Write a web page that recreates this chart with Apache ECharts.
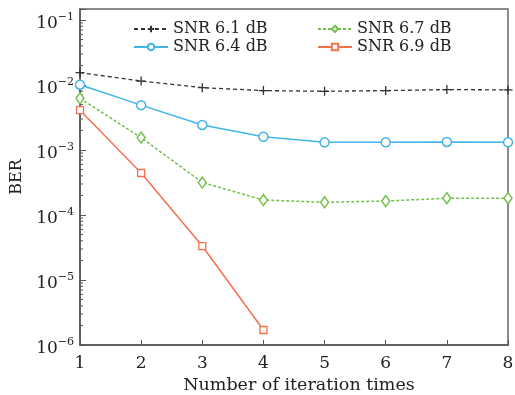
<!DOCTYPE html>
<html>
<head>
<meta charset="utf-8">
<script src="https://cdn.jsdelivr.net/npm/echarts@6/dist/echarts.min.js"></script>
<style>html,body{margin:0;padding:0;background:#fff;}#c{width:515px;height:395px;}</style>
</head>
<body>
<div id="c"></div>
<script>
const iterations = [1, 2, 3, 4, 5, 6, 7, 8];
const snr61 = [0.0155, 0.0115, 0.0091, 0.0082, 0.0080, 0.0082, 0.0085, 0.0084];
const snr64 = [0.0101, 0.0049, 0.00243, 0.0016, 0.00131, 0.00131, 0.00133, 0.00131];
const snr67 = [0.00624, 0.00155, 0.000316, 0.00017, 0.000157, 0.000164, 0.000181, 0.000181];
const snr69 = [0.0041, 0.000443, 0.0000333, 0.0000017];
const seriesNames = ['SNR 6.1 dB', 'SNR 6.4 dB', 'SNR 6.7 dB', 'SNR 6.9 dB'];
const yMin = 1e-6, yMax = 0.1476;

const pair = (vals) => vals.map((v, i) => [iterations[i], v]);
const minorTicks = [];
for (let n = -6; n <= -1; n++) {
  for (let k = 2; k <= 9; k++) {
    const v = k * Math.pow(10, n);
    if (v < yMax) minorTicks.push([1, v]);
  }
}
const FONT = '"DejaVu Serif", "Liberation Serif", serif';
const plus = 'path://M0,5L10,5M5,0L5,10';

const chart = echarts.init(document.getElementById('c'));
chart.setOption({
  animation: false,
  backgroundColor: '#fff',
  grid: { left: 80, right: 7, top: 9, bottom: 50, show: true, borderColor: '#666', borderWidth: 1.5,
    containLabel: false, outerBoundsMode: 'none' },
  legend: [
    { data: [seriesNames[0], seriesNames[1]], left: 128, top: 16, orient: 'vertical', itemWidth: 34, itemHeight: 8, itemGap: 2,
      textStyle: { fontFamily: FONT, fontSize: 16, color: '#222' } },
    { data: [seriesNames[2], seriesNames[3]], left: 312, top: 16, orient: 'vertical', itemWidth: 34, itemHeight: 8, itemGap: 2,
      textStyle: { fontFamily: FONT, fontSize: 16, color: '#222' } }
  ],
  xAxis: {
    type: 'value', min: 1, max: 8, interval: 1,
    name: 'Number of iteration times', nameLocation: 'middle', nameGap: 31,
    nameTextStyle: { fontFamily: FONT, fontSize: 17.5, color: '#222', padding: [0, 0, 0, 10] },
    axisLine: { lineStyle: { color: '#555', width: 1.5 } },
    axisTick: { inside: true, length: 5, lineStyle: { color: '#555' } },
    axisLabel: { fontFamily: FONT, fontSize: 17, color: '#222', margin: 10 },
    splitLine: { show: false }
  },
  yAxis: {
    type: 'log', logBase: 10, min: yMin, max: yMax,
    name: 'BER', nameLocation: 'middle', nameGap: 52, nameRotate: 90,
    nameTextStyle: { fontFamily: FONT, fontSize: 16, color: '#222' },
    axisLine: { lineStyle: { color: '#555', width: 1.5 } },
    axisTick: { inside: true, length: 6, lineStyle: { color: '#555' } },
    axisLabel: {
      margin: 6,
      formatter: function (v) {
        const e = Math.log10(v);
        const r = Math.round(e);
        if (Math.abs(e - r) > 1e-6) return '';
        return '{b|10}{s|\u2212' + Math.abs(r) + '}';
      },
      rich: {
        b: { fontFamily: FONT, fontSize: 17, color: '#222', padding: [8, 0, 0, 0] },
        s: { fontFamily: FONT, fontSize: 11, color: '#222', padding: [0, 0, 6, 0] }
      }
    },
    splitLine: { show: false }
  },
  series: [
    { name: seriesNames[0], type: 'line', data: pair(snr61), symbol: plus, symbolSize: 9,
      lineStyle: { color: '#333', width: 1.3, type: [4, 3] },
      itemStyle: { color: '#333', borderColor: '#333', borderWidth: 1.3 } },
    { name: seriesNames[1], type: 'line', data: pair(snr64), symbol: 'circle', symbolSize: 9,
      lineStyle: { color: '#42b5e8', width: 1.5 },
      itemStyle: { color: '#fff', borderColor: '#42b5e8', borderWidth: 1.5 } },
    { name: seriesNames[2], type: 'line', data: pair(snr67), symbol: 'diamond', symbolSize: [8, 11],
      lineStyle: { color: '#72c04a', width: 1.5, type: [3, 2] },
      itemStyle: { color: '#fff', borderColor: '#72c04a', borderWidth: 1.5 } },
    { name: seriesNames[3], type: 'line', data: pair(snr69), symbol: 'rect', symbolSize: 7,
      lineStyle: { color: '#f4704e', width: 1.5 },
      itemStyle: { color: '#fff', borderColor: '#f4704e', borderWidth: 1.3 } },
    { name: 'minorTicks', type: 'custom', data: minorTicks, silent: true, clip: false, z: 1,
      renderItem: function (params, api) {
        const p = api.coord([api.value(0), api.value(1)]);
        return { type: 'line', shape: { x1: p[0], y1: p[1], x2: p[0] + 3, y2: p[1] },
          style: { stroke: '#555', lineWidth: 1 } };
      } }
  ]
});
</script>
</body>
</html>
